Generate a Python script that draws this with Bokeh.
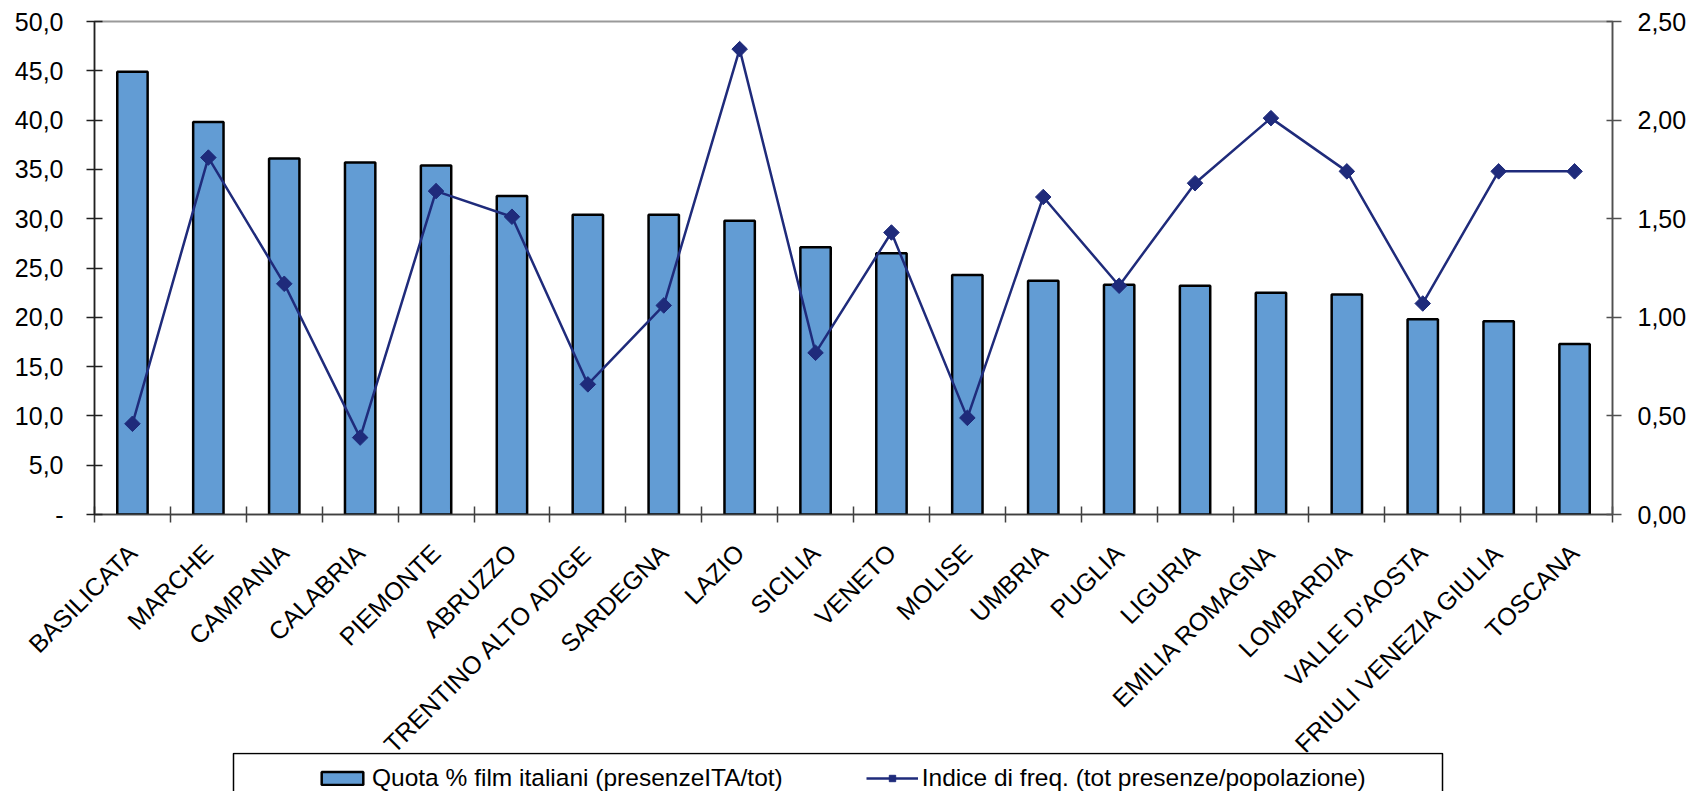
import numpy as np
from math import pi
from bokeh.plotting import figure
from bokeh.layouts import column
from bokeh.models import (Range1d, LinearAxis, FixedTicker, Legend, LegendItem,
                          ColumnDataSource, BoxAnnotation)
from bokeh.embed import file_html
from bokeh.resources import INLINE

categories = ["BASILICATA", "MARCHE", "CAMPANIA", "CALABRIA", "PIEMONTE", "ABRUZZO",
              "TRENTINO ALTO ADIGE", "SARDEGNA", "LAZIO", "SICILIA", "VENETO", "MOLISE",
              "UMBRIA", "PUGLIA", "LIGURIA", "EMILIA ROMAGNA", "LOMBARDIA", "VALLE D'AOSTA",
              "FRIULI VENEZIA GIULIA", "TOSCANA"]
quota_ita = [44.9, 39.8, 36.1, 35.7, 35.4, 32.3, 30.4, 30.4, 29.8, 27.1,
             26.5, 24.3, 23.7, 23.3, 23.2, 22.5, 22.3, 19.8, 19.6, 17.3]
indice_freq = [0.46, 1.81, 1.17, 0.39, 1.64, 1.51, 0.66, 1.06, 2.36, 0.82,
               1.43, 0.49, 1.61, 1.16, 1.68, 2.01, 1.74, 1.07, 1.74, 1.74]

left_ticks = [0, 5, 10, 15, 20, 25, 30, 35, 40, 45, 50]
left_labels = ["-", "5,0", "10,0", "15,0", "20,0", "25,0", "30,0", "35,0", "40,0", "45,0", "50,0"]
right_ticks = [0, 0.5, 1.0, 1.5, 2.0, 2.5]
right_labels = ["0,00", "0,50", "1,00", "1,50", "2,00", "2,50"]

label_bar = "Quota % film italiani (presenzeITA/tot)"
label_line = "Indice di freq. (tot presenze/popolazione)"

BAR_FILL = "#629CD4"
NAVY = "#1F2B7B"
FONT = "Liberation Sans"

n = len(categories)
xc = np.arange(n) + 0.5
src = ColumnDataSource(dict(x=xc, cat=categories, quota=quota_ita, indice=indice_freq))

W = 1693
BL, BR = 94, 81          # left / right borders (frame spans 94 .. 1612)
OVERLAP = 24
p = figure(width=W, height=752 + OVERLAP, output_backend="svg", toolbar_location=None,
           x_range=Range1d(0, n), y_range=Range1d(0, 50),
           min_border_left=BL, min_border_right=BR, min_border_top=21,
           min_border_bottom=238 + OVERLAP)
p.extra_y_ranges = {"right": Range1d(0, 2.5)}
p.grid.visible = False
p.outline_line_color = "#9a9a9a"
p.outline_line_width = 2

bar_style = dict(width=0.4, fill_color=BAR_FILL, line_color="black", line_width=2.5)
line_style = dict(line_color=NAVY, line_width=2.5)
pt_style = dict(marker="square", angle=pi / 4, size=11, fill_color=NAVY, line_color=NAVY)

bars = p.vbar(x="x", top="quota", source=src, **bar_style)
line = p.line(x="x", y="indice", source=src, y_range_name="right", **line_style)
pts = p.scatter(x="x", y="indice", source=src, y_range_name="right", **pt_style)

# bottom axis: labels at centres, ticks at category boundaries
xa = p.xaxis[0]
xa.ticker = FixedTicker(ticks=[float(v) for v in xc], minor_ticks=list(range(n + 1)))
xa.major_label_overrides = {float(v): c for v, c in zip(xc, categories)}
xa.major_tick_in = 0
xa.major_tick_out = 0
xa.minor_tick_in = 8
xa.minor_tick_out = 8
xa.minor_tick_line_color = "#404040"
xa.minor_tick_line_width = 1.5
xa.axis_line_color = "#404040"
xa.axis_line_width = 1.5
xa.major_label_orientation = pi / 4
xa.major_label_standoff = 26
xa.major_label_text_font = FONT
xa.major_label_text_font_size = "25px"
xa.major_label_text_color = "black"

# left axis
ya = p.yaxis[0]
ya.ticker = FixedTicker(ticks=left_ticks)
ya.major_label_overrides = {t: l for t, l in zip(left_ticks, left_labels)}
ya.major_tick_in = 8
ya.major_tick_out = 8
ya.minor_tick_in = 0
ya.minor_tick_out = 0
ya.major_tick_line_color = "#202020"
ya.major_tick_line_width = 1.5
ya.axis_line_color = "#202020"
ya.axis_line_width = 1.5
ya.major_label_standoff = 23
ya.major_label_text_font = FONT
ya.major_label_text_font_size = "25px"
ya.major_label_text_color = "black"

# right axis
ra = LinearAxis(y_range_name="right", ticker=FixedTicker(ticks=right_ticks))
ra.major_label_overrides = {t: l for t, l in zip(right_ticks, right_labels)}
ra.major_tick_in = 6
ra.major_tick_out = 9
ra.minor_tick_in = 0
ra.minor_tick_out = 0
ra.major_tick_line_color = "#505050"
ra.major_tick_line_width = 1.5
ra.axis_line_color = "#505050"
ra.axis_line_width = 1.5
ra.major_label_standoff = 16
ra.major_label_text_font = FONT
ra.major_label_text_font_size = "25px"
ra.major_label_text_color = "black"
p.add_layout(ra, "right")

# legend strip below the chart (its frame has the same borders as the chart,
# its x range is in pixels so the legend box can be placed like the original)
LH = 39
lg = figure(width=W, height=LH, output_backend="svg", toolbar_location=None,
            x_axis_location=None, y_axis_location=None,
            min_border_left=BL, min_border_right=BR, min_border_top=0, min_border_bottom=0,
            x_range=Range1d(BL, W - BR), y_range=Range1d(0, LH),
            margin=(-OVERLAP, 0, 0, 0))
lg.grid.visible = False
lg.outline_line_color = None
lg.border_fill_color = "white"
# hidden proxy renderers that only supply the legend glyphs
lg.extra_x_ranges = {"off": Range1d(-20, -10)}
lg.extra_y_ranges = {"off": Range1d(-100, -50)}
lg.add_layout(BoxAnnotation(left=233, right=1442, top=LH - 1, bottom=-200,
                            fill_color="white", fill_alpha=1,
                            line_color="black", line_alpha=1, line_width=1.5))
lg_bar = lg.vbar(x="x", top="quota", source=src, x_range_name="off", y_range_name="off",
                 visible=False, **bar_style)
lg_line = lg.line(x="x", y="indice", source=src, x_range_name="off", y_range_name="off",
                  visible=False, **line_style)
lg_pts = lg.scatter(x="x", y="indice", source=src, x_range_name="off", y_range_name="off",
                    visible=False, **pt_style)

leg = Legend(items=[LegendItem(label=label_bar, renderers=[lg_bar]),
                    LegendItem(label=label_line, renderers=[lg_line, lg_pts])],
             orientation="horizontal", location=(316 - BL, -1),
             padding=0, spacing=83, margin=0,
             glyph_width=52, glyph_height=16, label_standoff=4, label_height=28,
             label_text_font=FONT, label_text_font_size="24.5px", label_text_color="black",
             border_line_alpha=0, background_fill_alpha=0)
lg.add_layout(leg, "center")

layout = column(p, lg, spacing=0)
open("out.html", "w").write(file_html(layout, INLINE))
